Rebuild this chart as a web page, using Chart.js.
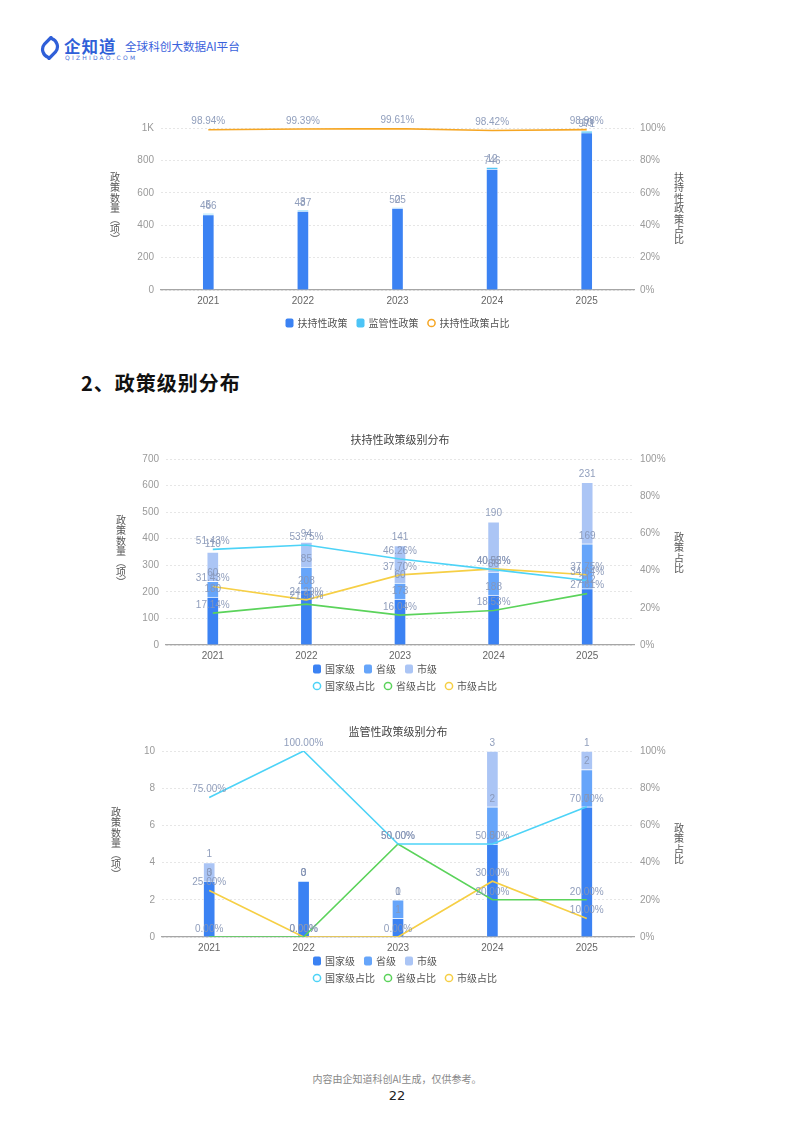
<!DOCTYPE html>
<html lang="zh-CN">
<head>
<meta charset="utf-8">
<title>政策级别分布</title>
<script src="https://cdn.jsdelivr.net/npm/chart.js@4.4.1/dist/chart.umd.min.js"></script>
<style>
  html, body { margin: 0; padding: 0; background: #fff; }
  body { width: 794px; height: 1123px; position: relative; overflow: hidden;
         font-family: "Noto Sans CJK SC", "Noto Sans", sans-serif; }
  .box { position: absolute; left: 0; width: 794px; }
  .vtitle { position: absolute; width: 12px; font-size: 10px; line-height: 10.4px;
            text-align: center; color: #555; }
  .vtitle span { display: block; }
  .logo { position: absolute; left: 40px; top: 36px; }
  .brand { position: absolute; left: 64px; top: 34px; font-size: 16.5px; font-weight: 700;
           color: #2f5fd8; letter-spacing: 1px; }
  .brand-sub { position: absolute; left: 65px; top: 54px; font-size: 6px; color: #4a6fd8;
               letter-spacing: 2.2px; font-family: "DejaVu Sans", sans-serif; }
  .slogan { position: absolute; left: 125px; top: 38px; font-size: 11.6px; color: #3a62dc; }
  .heading { position: absolute; left: 81px; top: 368px; font-size: 20px; font-weight: 700;
             color: #111; letter-spacing: 1px; }
  .foot { position: absolute; left: 0; width: 794px; text-align: center; }
</style>
</head>
<body>

<svg class="logo" width="20" height="24" viewBox="0 0 20 24">
  <path d="M11 1.5 L4.5 8 A8.5 8.5 0 0 0 8.5 21.5" stroke="#2f5fd8" stroke-width="3.2" fill="none" stroke-linecap="round"/>
  <path d="M9 22.5 L15.5 16 A8.5 8.5 0 0 0 11.5 2.5" stroke="#2f5fd8" stroke-width="3.2" fill="none" stroke-linecap="round"/>
</svg>
<div class="brand">企知道</div>
<div class="brand-sub">QIZHIDAO.COM</div>
<div class="slogan">全球科创大数据AI平台</div>

<div class="box" style="top:110px;height:230px;"><canvas id="chartTotal"></canvas></div>
<div class="vtitle" style="left:109px;top:172px;"><span>政</span><span>策</span><span>数</span><span>量</span><span>︵</span><span>项</span><span>︶</span></div>
<div class="vtitle" style="left:673px;top:172px;"><span>扶</span><span>持</span><span>性</span><span>政</span><span>策</span><span>占</span><span>比</span></div>

<div class="heading">2、政策级别分布</div>

<div class="box" style="top:420px;height:280px;"><canvas id="chartSupport"></canvas></div>
<div class="vtitle" style="left:115px;top:515px;"><span>政</span><span>策</span><span>数</span><span>量</span><span>︵</span><span>项</span><span>︶</span></div>
<div class="vtitle" style="left:673px;top:532px;"><span>政</span><span>策</span><span>占</span><span>比</span></div>

<div class="box" style="top:712px;height:280px;"><canvas id="chartRegulate"></canvas></div>
<div class="vtitle" style="left:110px;top:807px;"><span>政</span><span>策</span><span>数</span><span>量</span><span>︵</span><span>项</span><span>︶</span></div>
<div class="vtitle" style="left:673px;top:823px;"><span>政</span><span>策</span><span>占</span><span>比</span></div>

<div class="foot" style="top:1071px;font-size:10px;color:#888;">内容由企知道科创AI生成，仅供参考。</div>
<div class="foot" style="top:1088px;font-size:13px;color:#222;font-family:'DejaVu Sans',sans-serif;">22</div>

<script>
"use strict";

// 年份
const years = ['2021', '2022', '2023', '2024', '2025'];

// 图1：扶持性 / 监管性政策数量
const supportCount = [466, 487, 505, 746, 971];
const regulateCount = [5, 3, 2, 12, 10];
const supportShare = [98.94, 99.39, 99.61, 98.42, 98.98];

// 图2：扶持性政策级别分布
const supNational = [180, 208, 173, 188, 212];
const supProvince = [60, 85, 60, 86, 169];
const supCity = [110, 94, 141, 190, 231];
const supNationalShare = [51.43, 53.75, 46.26, 40.52, 34.64];
const supProvinceShare = [17.14, 21.96, 16.04, 18.53, 27.61];
const supCityShare = [31.43, 24.29, 37.70, 40.95, 37.75];

// 图3：监管性政策级别分布
const regNational = [3, 3, 1, 5, 7];
const regProvince = [0, 0, 1, 2, 2];
const regCity = [1, 0, 0, 3, 1];
const regNationalShare = [75, 100, 50, 50, 70];
const regProvinceShare = [0, 0, 50, 20, 20];
const regCityShare = [25, 0, 0, 30, 10];

const C = {
    national: '#3b82f3',
    province: '#66a5fa',
    city: '#abc5f5',
    regulate: '#4cc4f6',
    orange: '#f6a623',
    cyan: '#4dd3f7',
    green: '#5bd35b',
    yellow: '#f6cf45',
    label: 'rgba(135, 150, 182, 0.92)'
};

Chart.defaults.font.family = "'Liberation Sans', Arial, sans-serif";
Chart.defaults.font.size = 10;
Chart.defaults.animation = false;
Chart.defaults.responsive = true;
Chart.defaults.maintainAspectRatio = false;

// value text above each bar segment / line point
const valueLabels = {
    id: 'valueLabels',
    afterDatasetsDraw(chart) {
        const ctx = chart.ctx;
        ctx.save();
        ctx.font = "10px 'Liberation Sans', Arial, sans-serif";
        ctx.fillStyle = C.label;
        ctx.textAlign = 'center';
        ctx.textBaseline = 'middle';
        chart.data.datasets.forEach((ds, i) => {
            const meta = chart.getDatasetMeta(i);
            meta.data.forEach((el, j) => {
                const v = ds.data[j];
                const txt = ds.type === 'line' ? v.toFixed(2) + '%' : String(v);
                ctx.fillText(txt, el.x, el.y - 8);
            });
        });
        ctx.restore();
    }
};

// legend drawn in fixed rows
const rowLegend = {
    id: 'rowLegend',
    afterDraw(chart, args, opts) {
        if (!opts.rows) return;
        const ctx = chart.ctx;
        ctx.save();
        ctx.font = "10px 'Noto Sans CJK SC', sans-serif";
        ctx.textBaseline = 'middle';
        ctx.textAlign = 'left';
        opts.rows.forEach((row, r) => {
            const y = opts.y + r * opts.gap;
            const widths = row.map(i => 12 + ctx.measureText(chart.data.datasets[i].label).width);
            const total = widths.reduce((a, b) => a + b, 0) + 9 * (row.length - 1);
            let x = opts.align === 'center'
                ? (chart.chartArea.left + chart.chartArea.right) / 2 - total / 2
                : opts.x;
            row.forEach((i, k) => {
                const ds = chart.data.datasets[i];
                if (ds.type === 'line') {
                    ctx.beginPath();
                    ctx.arc(x + 4, y, 3.6, 0, Math.PI * 2);
                    ctx.lineWidth = 1.5;
                    ctx.strokeStyle = ds.borderColor;
                    ctx.stroke();
                } else {
                    ctx.beginPath();
                    ctx.roundRect(x, y - 4.5, 8, 9, 2);
                    ctx.fillStyle = ds.backgroundColor;
                    ctx.fill();
                }
                ctx.fillStyle = '#555';
                ctx.fillText(ds.label, x + 12, y);
                x += widths[k] + 9;
            });
        });
        ctx.restore();
    }
};

function bar(label, data, color) {
    return {
        type: 'bar', label: label, data: data, backgroundColor: color,
        borderColor: 'rgba(255,255,255,0.55)', borderWidth: 1,
        barThickness: 12, stack: 'lv', order: 1
    };
}

function line(label, data, color) {
    return {
        type: 'line', label: label, data: data, borderColor: color, backgroundColor: color,
        borderWidth: 1.6, pointRadius: 0, tension: 0, yAxisID: 'y1', order: 0
    };
}

function scales(maxLeft, stepLeft, fmtLeft, leftW, rightW) {
    return {
        x: {
            stacked: true,
            grid: { display: false, drawTicks: false },
            border: { display: true, color: '#a6a6a6', width: 1.2 },
            ticks: { color: '#666', padding: 5 },
            afterFit: s => { s.height = 30; }
        },
        y: {
            stacked: true, min: 0, max: maxLeft,
            grid: { color: '#e6e6e6', drawTicks: false },
            border: { display: false, dash: [2, 2] },
            ticks: { stepSize: stepLeft, color: '#9a9a9a', padding: 7, callback: fmtLeft },
            afterFit: s => { s.width = leftW; }
        },
        y1: {
            position: 'right', min: 0, max: 100,
            grid: { display: false, drawTicks: false },
            border: { display: false },
            ticks: { stepSize: 20, color: '#9a9a9a', padding: 6, callback: v => v + '%' },
            afterFit: s => { s.width = rightW; }
        }
    };
}

// 图1
new Chart(document.getElementById('chartTotal'), {
    data: {
        labels: years,
        datasets: [
            bar('扶持性政策', supportCount, C.national),
            bar('监管性政策', regulateCount, C.regulate),
            line('扶持性政策占比', supportShare, C.orange)
        ]
    },
    options: {
        layout: { padding: { top: 18, bottom: 20, left: 111, right: 110 } },
        scales: scales(1000, 200, v => (v === 1000 ? '1K' : v), 50, 50),
        plugins: {
            legend: { display: false },
            tooltip: { enabled: false },
            rowLegend: { rows: [[0, 1, 2]], align: 'center', y: 213, gap: 0 }
        }
    },
    plugins: [valueLabels, rowLegend]
});

function levelChart(id, title, counts, shares, maxLeft, stepLeft, padLeft) {
    return new Chart(document.getElementById(id), {
        data: {
            labels: years,
            datasets: [
                bar('国家级', counts[0], C.national),
                bar('省级', counts[1], C.province),
                bar('市级', counts[2], C.city),
                line('国家级占比', shares[0], C.cyan),
                line('省级占比', shares[1], C.green),
                line('市级占比', shares[2], C.yellow)
            ]
        },
        options: {
            layout: { padding: { top: 13, bottom: 25, left: padLeft, right: 110 } },
            scales: scales(maxLeft, stepLeft, v => v, 50, 50),
            plugins: {
                title: {
                    display: true, text: title, color: '#444',
                    font: { size: 11, weight: 'normal', family: "'Noto Sans CJK SC', sans-serif" },
                    padding: { top: 0, bottom: 12.8 }
                },
                legend: { display: false },
                tooltip: { enabled: false },
                rowLegend: { rows: [[0, 1, 2], [3, 4, 5]], x: 313, y: 249, gap: 17 }
            }
        },
        plugins: [valueLabels, rowLegend]
    });
}

// 图2
levelChart('chartSupport', '扶持性政策级别分布',
    [supNational, supProvince, supCity],
    [supNationalShare, supProvinceShare, supCityShare], 700, 100, 116);

// 图3
levelChart('chartRegulate', '监管性政策级别分布',
    [regNational, regProvince, regCity],
    [regNationalShare, regProvinceShare, regCityShare], 10, 2, 112);
</script>
</body>
</html>
